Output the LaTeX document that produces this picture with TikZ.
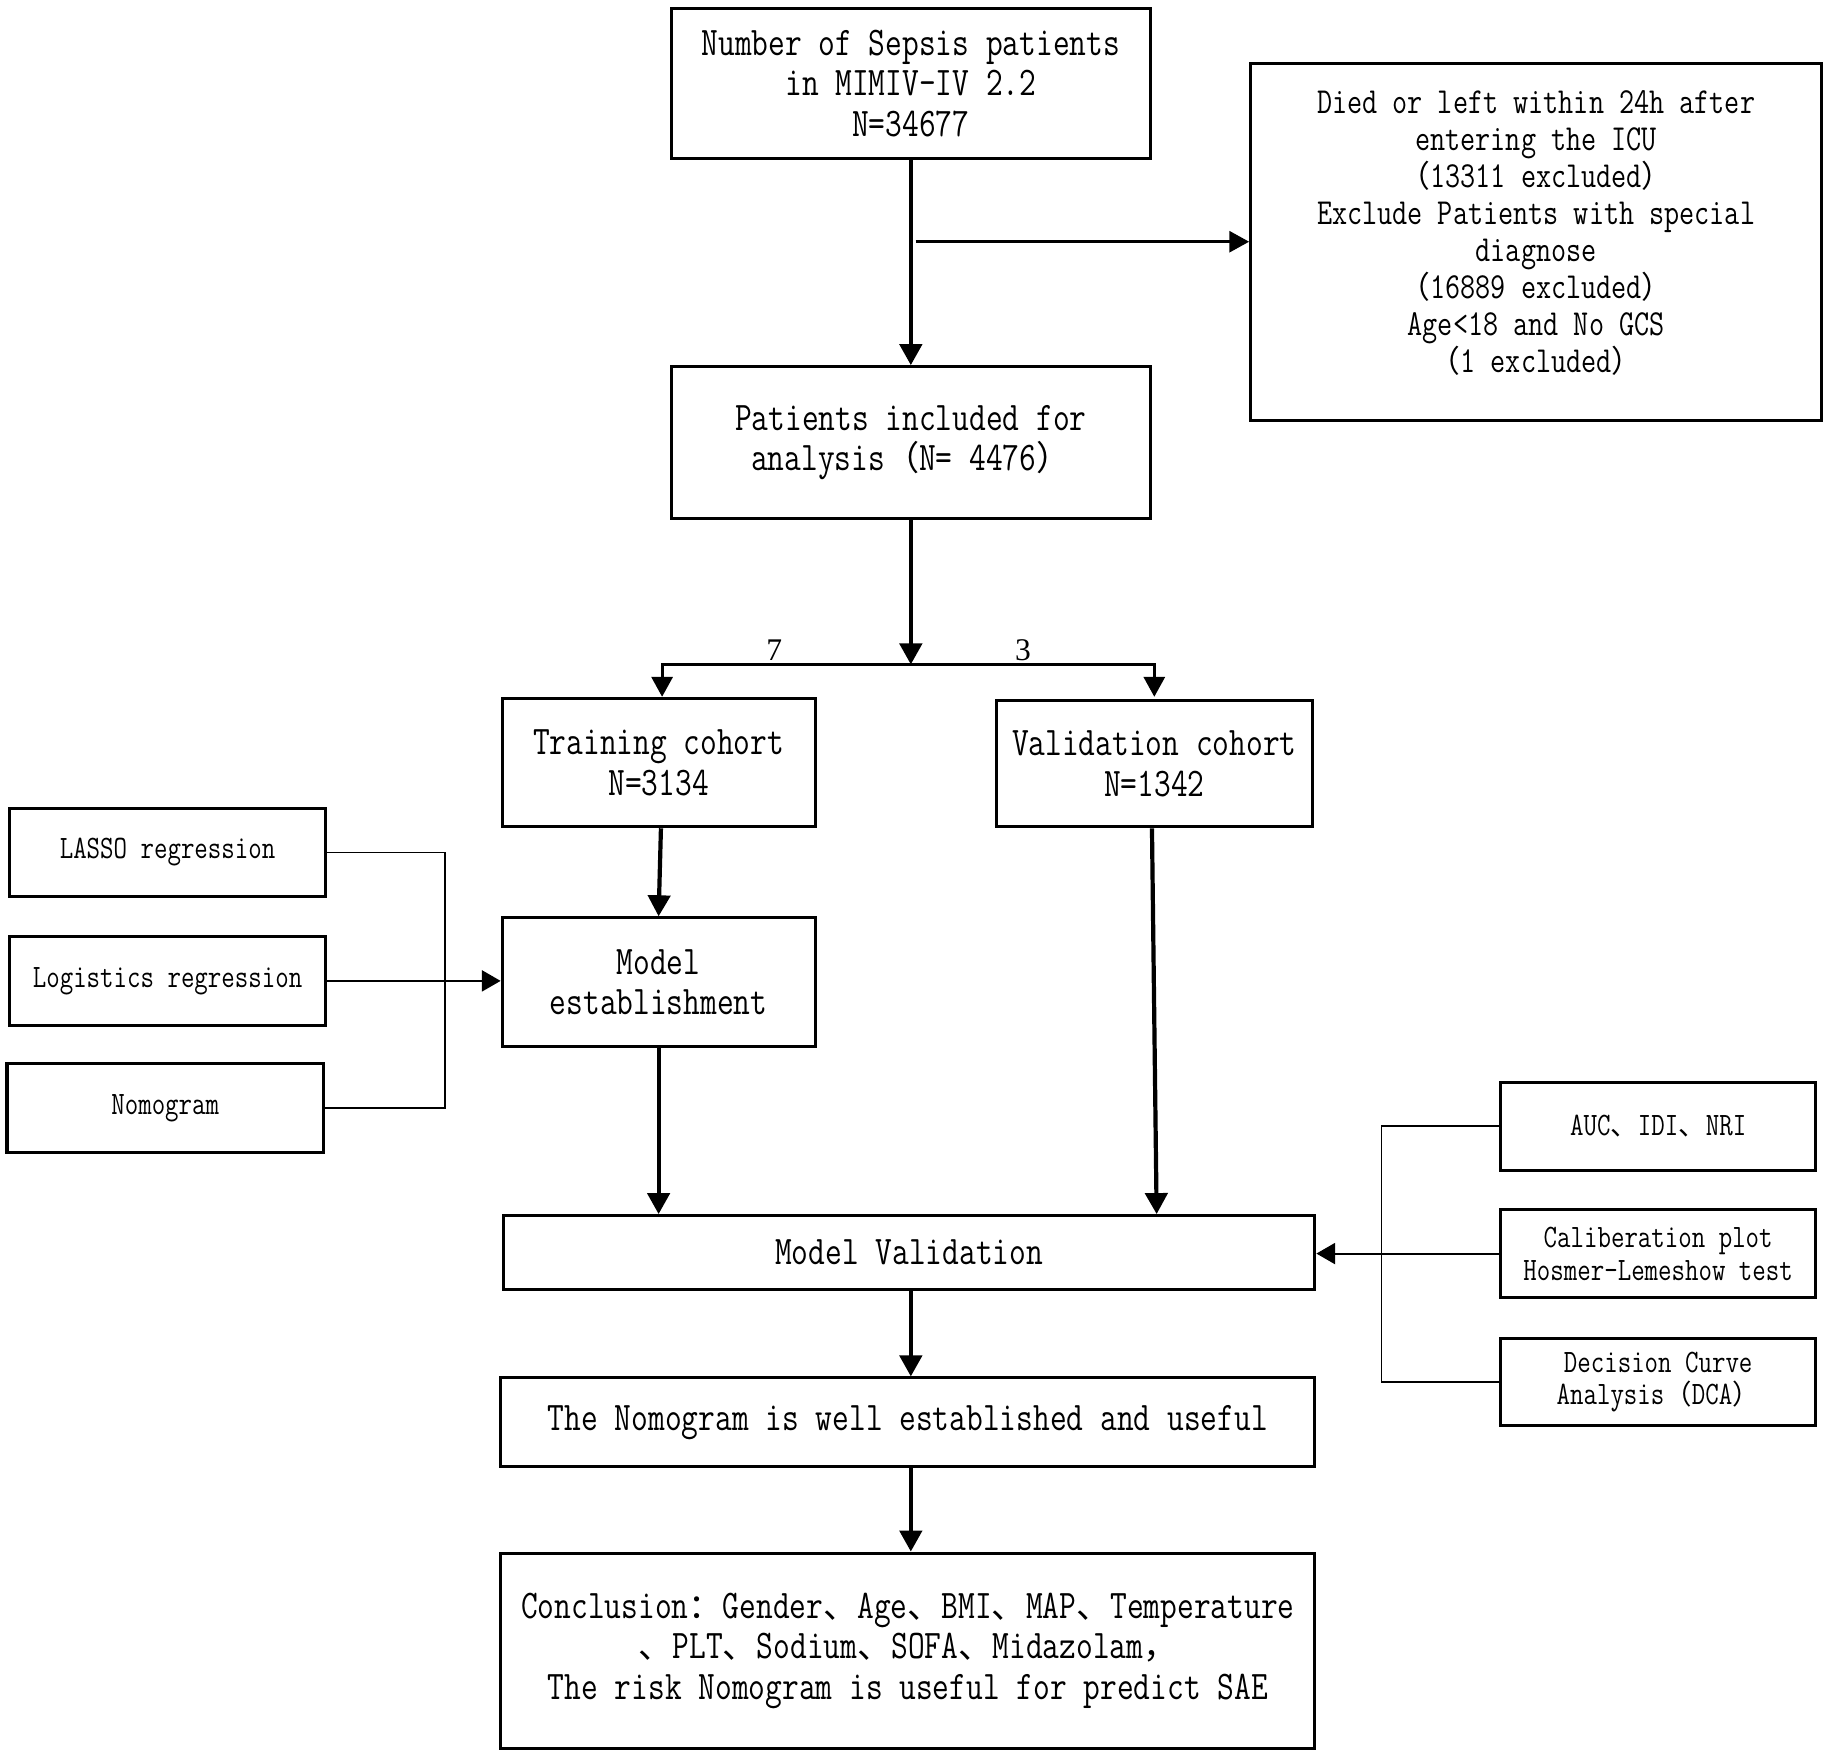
\documentclass[tikz,border=0pt]{standalone}
\usepackage{fontspec}
\setmainfont{Latin Modern Mono}[FakeStretch=0.8]
\newfontfamily\cjk{Noto Sans CJK SC}[Scale=0.84]
\newfontfamily\numfont{Liberation Serif}
\usetikzlibrary{arrows.meta,calc}
\begin{document}
\begin{tikzpicture}[x=1pt,y=-1pt,
  box/.style={draw,line width=2.6pt,inner sep=0pt,align=center},
  big/.style={font=\fontsize{34.8}{34.8}\selectfont},
  mid/.style={font=\fontsize{31.4}{31.6}\selectfont},
  small/.style={font=\fontsize{28}{28}\selectfont},
  numlbl/.style={font=\numfont\fontsize{27}{30}\selectfont,inner sep=0pt},
  mainarrow/.style={line width=3.6pt,-{Triangle[length=18pt,width=19pt]}},
  midarrow/.style={line width=2.6pt,-{Triangle[length=17pt,width=18pt]}},
  thinline/.style={line width=1.4pt},
  thinarrow/.style={line width=1.6pt,-{Triangle[length=16pt,width=18pt]}},
]
\useasboundingbox (0,0) rectangle (1568,1503);

% main column
\node[box,big,minimum width=410pt,minimum height=129pt] (top) at (780,71.5)
  {Number of Sepsis patients\\in MIMIV-IV 2.2\\N=34677};
\node[box,mid,minimum width=489pt,minimum height=306pt] (excl) at (1315.5,207)
  {Died or left within 24h after\\entering the ICU\\{\cjk （}13311 excluded{\cjk ）}\\Exclude Patients with special\\diagnose\\{\cjk （}16889 excluded{\cjk ）}\\Age<18 and No GCS\\{\cjk （}1 excluded{\cjk ）}\\[-14pt]\mbox{}};
\node[box,big,minimum width=410pt,minimum height=130pt] (pat) at (780,379)
  {Patients included for\\analysis{\cjk （}N= 4476{\cjk ）}};
\node[box,big,minimum width=268pt,minimum height=110pt] (train) at (564,653)
  {Training cohort\\N=3134};
\node[box,big,minimum width=271pt,minimum height=108pt] (valid) at (988.5,654)
  {Validation cohort\\N=1342};
\node[box,big,minimum width=268pt,minimum height=110pt] (model) at (564,841)
  {Model\\establishment};
\node[box,big,minimum width=695pt,minimum height=63pt] (mval) at (778.5,1072.5)
  {Model Validation};
\node[box,big,minimum width=697pt,minimum height=76pt] (well) at (777.5,1218)
  {The Nomogram is well established and useful};
\node[box,big,minimum width=697pt,minimum height=167pt] (concl) at (777.5,1413.5)
  {Conclusion{\cjk ：}Gender{\cjk 、}Age{\cjk 、}BMI{\cjk 、}MAP{\cjk 、}Temperature\\{\cjk 、}PLT{\cjk 、}Sodium{\cjk 、}SOFA{\cjk 、}Midazolam{\cjk ，}\\The risk Nomogram is useful for predict SAE};

% left methods
\node[box,small,minimum width=271pt,minimum height=76pt] (lasso) at (143.5,730) {LASSO regression};
\node[box,small,minimum width=271pt,minimum height=76pt] (logit) at (143.5,840) {Logistics regression};
\node[box,small,minimum width=271pt,minimum height=76pt] (nomo) at (141.5,949) {Nomogram};

% right validation methods
\node[box,small,minimum width=270pt,minimum height=75pt] (auc) at (1420,964.5)
  {AUC{\cjk 、}IDI{\cjk 、}NRI};
\node[box,small,minimum width=270pt,minimum height=75pt] (calib) at (1420,1073.5)
  {Caliberation plot\\Hosmer-Lemeshow test};
\node[box,small,minimum width=270pt,minimum height=75pt] (dca) at (1420,1183.5)
  {Decision Curve\\Analysis{\cjk （}DCA{\cjk ）}};

% connectors
\coordinate (br) at (top.south |- excl.west);
\draw[mainarrow] (top.south) -- (pat.north);
\draw[midarrow] ($(br)+(4,0)$) -- (excl.west);

\coordinate (split) at (780,569);
\draw[mainarrow] (pat.south) -- (split);
\draw[line width=2.4pt,-{Triangle[length=17pt,width=18pt]}] (split) -| ($(train.north)+(3,0)$);
\draw[line width=2.4pt,-{Triangle[length=17pt,width=18pt]}] (split) -| ($(valid.north)+(0,-2)$);
\node[numlbl,anchor=base] (n7) at (663,566) {7};
\node[numlbl,anchor=base] (n3) at (876,566) {3};

\draw[mainarrow] ($(train.south)+(2,0)$) -- (model.north);
\draw[mainarrow] (model.south) -- (model.south |- mval.north);
\draw[mainarrow] ($(valid.south)+(-2,0)$) -- ($(valid.south |- mval.north)+(2,0)$);
\draw[mainarrow] ($(mval.south)+(1.5,0)$) -- ($(well.north)+(2.5,0)$);
\draw[mainarrow] ($(well.south)+(2.5,0)$) -- ($(concl.north)+(2.5,0)$);

\coordinate (lbus) at (381,730);
\draw[thinline] (lasso.east) -- (lbus) |- (nomo.east);
\draw[thinarrow] (logit.east) -- (logit.east -| model.west);

\coordinate (rbus) at (1183,964.5);
\draw[thinline] (auc.west) -- (rbus) |- (dca.west);
\draw[thinarrow] (calib.west) -- (calib.west -| mval.east);
\end{tikzpicture}
\end{document}
